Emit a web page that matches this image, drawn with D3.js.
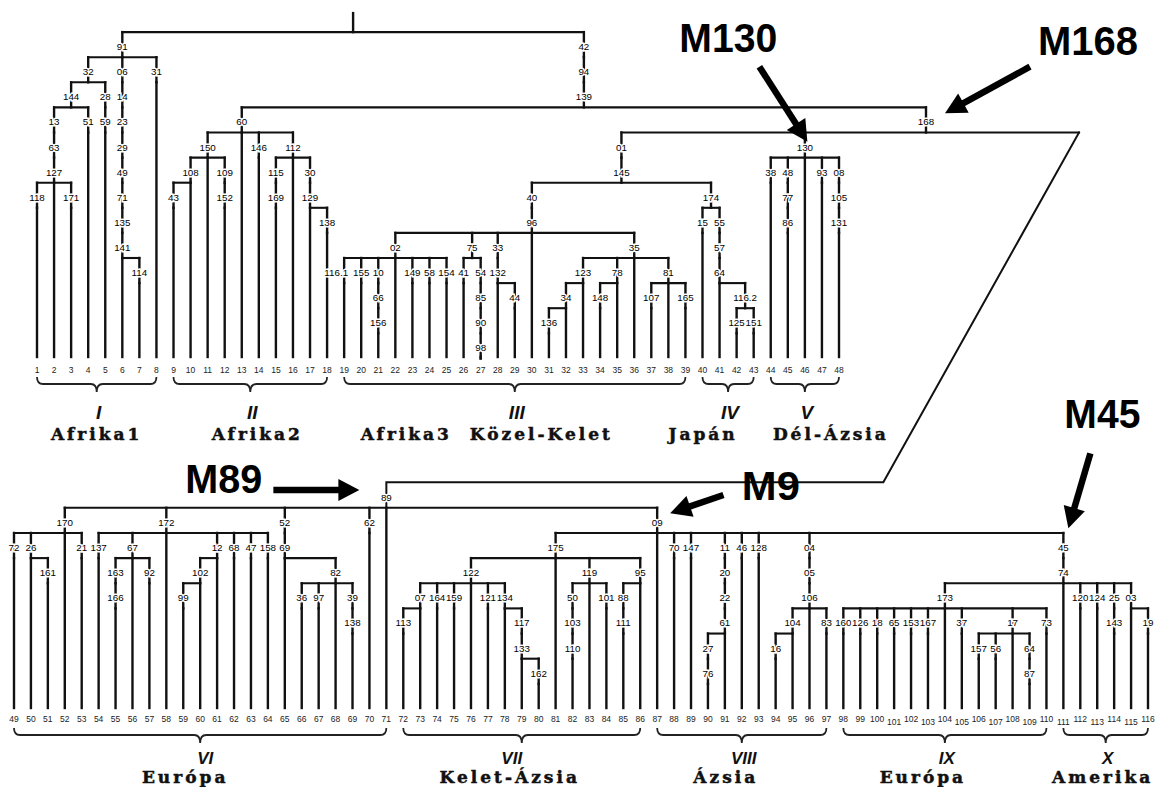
<!DOCTYPE html>
<html><head><meta charset="utf-8">
<script src="https://cdn.jsdelivr.net/npm/d3@7"></script>
<style>
body{margin:0;background:#fff}
svg{display:block}
</style></head><body>
<svg id="chart" width="1162" height="787"></svg>
<script>
// ---------------- DATA ----------------
// Tree notation: "a>b" = chain (b below a), "a(x,y)" = branching, "#n" = population (leaf) n
const cladeI   = "91(32(144(13>63>127(118>#1,#2,171>#3),51>#4),28>59>#5),06>14>23>29>49>71>135>141(#6,114>#7),31>#8)";
const cladeII  = "60(150(108(43>#9,#10),#11,109>152>#12),#13,146>#14,112(115>169>#15,#16,30>129(#17,138>#18)))";
const cladeIII = "40>96(02(116.1>#19,155>#20,10>66>156>#21,#22,149>#23,58>#24,154>#25),75(41>#26,54>85>90>98>#27),33>132(#28,44>#29),#30,35(123(34(136>#31,#32),#33),78(148>#34,#35),#36,81(107>#37,#38,165>#39)))";
const cladeIV  = "174(15>#40,55>57>64(#41,116.2(125>#42,151>#43)))";
const cladeV   = "130(38>#44,48>77>86>#45,#46,93>#47,08>105>131>#48)";
const cladeVI  = "170(72>#49,26(#50,161>#51),#52,21>#53),172(137>#54,67(163>166>#55,#56,92>#57),#58,12(102(99>#59,#60),#61),68>#62,47>#63,158>#64),52>69(#65,82(36>#66,97>#67,#68,39>138>#69)),62>#70,#71";
const cladeVII = "175(122(07(113>#72,#73),164>#74,159>#75,#76,121>#77,134(#78,117>133(#79,162>#80))),#81,119(50>103>110>#82,#83,101>#84),95(88>111>#85,#86))";
const cladeVIII = "#87,70>#88,147>#89,11>20>22>61(27>76>#90,#91),46>#92,128>#93,04>05>106(104(16>#94,#95),#96,83>#97)";
const cladeIXX = "45>74(173(160>#98,126>#99,18>#100,65>#101,153>#102,167>#103,#104,37>#105,17(157>#106,56>#107,#108,64>87>#109),73>#110),#111,120>#112,124>#113,25>143>#114,03(#115,19>#116))";

const topTree = "(" + cladeI + ",42>94>139(" + cladeII + ",168(01>145(" + cladeIII + "," + cladeIV + ")," + cladeV + ")))";
const bottomTree = "89(" + cladeVI + ",09(" + cladeVII + "," + cladeVIII + "," + cladeIXX + "))";

const groupNumerals = ["I","II","III","IV","V","VI","VII","VIII","IX","X"];
const groupNames = ["Afrika1","Afrika2","Afrika3  Közel-Kelet","Japán","Dél-Ázsia","Európa","Kelet-Ázsia","Ázsia","Európa","Amerika"];
const groupFirst = [1,9,19,40,44,49,72,87,98,111];
const groupLast  = [8,18,39,43,48,71,86,97,110,116];

const markerLabels = ["M130","M168","M89","M9","M45"];
const markerNodes  = ["130","168","89","09","45"];

// ---------------- LAYOUT ----------------
const xTop = d3.scaleLinear().domain([1,48]).range([37,839]);
const xBot = d3.scaleLinear().domain([49,116]).range([14,1148]);
const yTop = d3.scaleLinear().domain([0,12]).range([46.7, 46.7+25.1*12]);
const yBot = d3.scaleLinear().domain([0,7]).range([497.3, 497.3+25.15*7]);
const xLeaf = n => n <= 48 ? xTop(n) : xBot(n);

const cornerTopX = xTop(48) + 240;
const cornerBotX = xBot(98) + 40;
const connY = yBot(0) - 15;
// horizontal placement of the group captions relative to their brace tip
const nameOffset = [0, 7, -28, -25, 26, -15, -12, -16, -22, -3];
const numeralOffset = [2, 2, 2, 2, 2, 5, -10, 2, 2, 2];

function parseTree(str){
  let i = 0;
  const tok = () => { let s=""; while(i<str.length && !">(),".includes(str[i])) s+=str[i++]; return s; };
  function item(){
    if(str[i]==="#"){ i++; const s=tok(); return {leaf:+s}; }
    const lab = tok();
    if(str[i]===">"){ i++; return {label:lab, children:[item()]}; }
    if(str[i]==="("){ i++; const kids=[item()]; while(str[i]===","){ i++; kids.push(item()); } i++; return {label:lab, children:kids}; }
    return {label:lab};
  }
  return item();
}

const svg = d3.select("#chart");
const gLines = svg.append("g").attr("stroke","#111").attr("stroke-width",2.4).attr("fill","none").attr("stroke-linecap","square");
const gText = svg.append("g");

function drawPanel(str, cfg){
  const root = d3.hierarchy(parseTree(str));
  root.eachAfter(n => {
    if(n.data.leaf != null){ n.x = xLeaf(n.data.leaf); return; }
    if(n.data.label === "168"){ n.x = xTop(48) + 87; return; }
    if(n.children.length === 1){ n.x = n.children[0].x; return; }
    const bare = n.children.filter(c => c.data.leaf != null);
    n.x = bare.length === 1 ? bare[0].x : (n.children[0].x + n.children[n.children.length-1].x)/2;
  });
  root.each(n => { n.ly = cfg.y(n.depth + cfg.rowOffset); n.jy = n.ly + 10.5; });
  const all = root.descendants();

  gLines.selectAll(null).data(all.filter(n => n.parent)).join("line")
    .attr("x1", n=>n.x).attr("x2", n=>n.x)
    .attr("y1", n=>n.parent.jy)
    .attr("y2", n=> n.data.leaf != null ? cfg.leafBottom : n.jy);

  gLines.selectAll(null).data(all.filter(n => n.children && n.children.length>1)).join("line")
    .attr("stroke-width",2.1)
    .attr("x1", n=>d3.min(n.children, c=>c.x))
    .attr("x2", n=> n.data.label==="168" ? cornerTopX : d3.max(n.children, c=>c.x))
    .attr("y1", n=>n.jy).attr("y2", n=>n.jy);

  const longFirst = n => n.data.label.length > 3 && n.parent && n.parent.children.length > 1 && n.parent.children[0] === n;
  gText.selectAll(null).data(all.filter(n => n.data.label)).join("text")
    .attr("x", n=> longFirst(n) ? n.x + 4 : n.x).attr("y", n=>n.ly).attr("dy","0.35em")
    .attr("text-anchor", n => longFirst(n) ? "end" : "middle")
    .attr("font-family","'Liberation Sans', Arial, sans-serif").attr("font-size",9.8)
    .attr("fill","#000").attr("stroke","#fff").attr("stroke-width",3).attr("paint-order","stroke")
    .text(n=>n.data.label);

  gText.selectAll(null).data(all.filter(n => n.data.leaf != null)).join("text")
    .attr("x", n=>n.x)
    .attr("y", n=> cfg.leafLabelY + (n.data.leaf>=100 && n.data.leaf%2===1 ? 3 : 0))
    .attr("dy","0.35em").attr("text-anchor","middle")
    .attr("font-family","'Liberation Sans', Arial, sans-serif").attr("font-size",8.5)
    .attr("fill","#222")
    .text(n=>n.data.leaf);
  return root;
}

const topRoot = drawPanel(topTree, {y:yTop, rowOffset:-1, leafBottom:357, leafLabelY:370});
const botRoot = drawPanel(bottomTree, {y:yBot, rowOffset:0, leafBottom:708, leafLabelY:719});

// root stem
gLines.append("line").attr("x1",topRoot.x).attr("x2",topRoot.x).attr("y1",topRoot.jy-19).attr("y2",topRoot.jy);

const findNode = (root, lab) => root.descendants().find(n => n.data.label === lab);
const n168 = findNode(topRoot,"168");
// connector from node 168 to the lower tree (node 89)
gLines.append("path").attr("stroke-width",2).attr("stroke-linejoin","miter")
  .attr("d", d3.line()([[cornerTopX, n168.jy],[cornerBotX, connY],[botRoot.x, connY],[botRoot.x, botRoot.jy]]));

// braces, numerals, names
function brace(x0,x1,y0){
  const xm=(x0+x1)/2, ym=y0+7, yt=y0+15, r=6;
  return `M${x0},${y0} Q${x0},${ym} ${x0+r},${ym} L${xm-r},${ym} Q${xm},${ym} ${xm},${yt} Q${xm},${ym} ${xm+r},${ym} L${x1-r},${ym} Q${x1},${ym} ${x1},${y0}`;
}
const groups = groupNumerals.map((g,i)=>({i, num:g, name:groupNames[i], x0:xLeaf(groupFirst[i]), x1:xLeaf(groupLast[i]), top: groupFirst[i]<=48}));
svg.append("g").attr("fill","none").attr("stroke","#222").attr("stroke-width",1.8)
  .selectAll("path").data(groups).join("path")
  .attr("d", g => brace(g.x0, g.x1, g.top ? 377 : 728));
gText.selectAll(null).data(groups).join("text")
  .attr("x", g=>(g.x0+g.x1)/2 + numeralOffset[g.i]).attr("y", g=> g.top ? 419 : 764)
  .attr("text-anchor","middle")
  .attr("font-family","'Liberation Sans', Arial, sans-serif").attr("font-weight","bold").attr("font-style","italic")
  .attr("font-size", g=> g.top ? 19 : 17).attr("fill","#111")
  .text(g=>g.num);
gText.selectAll(null).data(groups).join("text")
  .attr("x", g=>(g.x0+g.x1)/2 + nameOffset[g.i]).attr("y", g=> g.top ? 440 : 782.5)
  .attr("text-anchor","middle")
  .attr("font-family","'DejaVu Serif', serif").attr("font-weight","bold")
  .attr("font-size",17).attr("letter-spacing",3).attr("fill","#111")
  .attr("stroke","#111").attr("stroke-width",0.5)
  .style("white-space","pre")
  .text(g=>g.name);

// annotation arrows
const annotLayout = [
  {tip:[2.5,-5.4], tail:[-45.5,-80.4], text:[-125.5,-95], w:98},
  {tip:[19,-8.7], tail:[104,-55.3], text:[112,-67], w:100},
  {tip:[-27,-7.3], tail:[-113,-7.3], text:[-201,-4], w:77},
  {tip:[13,-9.2], tail:[66.3,-27.5], text:[84.7,-22.5], w:58},
  {tip:[5,-19.3], tail:[27,-94.3], text:[1,-119.3], w:76}
];
const allNodes = topRoot.descendants().concat(botRoot.descendants());
const gAnn = svg.append("g");
markerLabels.forEach((lab,i)=>{
  const nd = allNodes.find(n => n.data.label === markerNodes[i]);
  const a = annotLayout[i];
  const tip = [nd.x + a.tip[0], nd.ly + a.tip[1]];
  const tail = [nd.x + a.tail[0], nd.ly + a.tail[1]];
  const dx = tip[0]-tail[0], dy = tip[1]-tail[1], L = Math.hypot(dx,dy);
  const ux = dx/L, uy = dy/L, px = -uy, py = ux;
  const hl = 21, hw = 11;
  const base = [tip[0]-ux*hl, tip[1]-uy*hl];
  gAnn.append("line").attr("x1",tail[0]).attr("y1",tail[1]).attr("x2",base[0]+ux*3).attr("y2",base[1]+uy*3)
    .attr("stroke","#000").attr("stroke-width",6.5);
  gAnn.append("path").attr("fill","#000")
    .attr("d", `M${tip[0]},${tip[1]} L${base[0]+px*hw},${base[1]+py*hw} L${base[0]-px*hw},${base[1]-py*hw} Z`);
  gAnn.append("text").attr("x", nd.x + a.text[0]).attr("y", nd.ly + a.text[1])
    .attr("font-family","'Liberation Sans', Arial, sans-serif").attr("font-weight","bold")
    .attr("font-size",41).attr("fill","#000")
    .attr("textLength", a.w).attr("lengthAdjust","spacingAndGlyphs")
    .text(lab);
});
</script>
</body></html>
